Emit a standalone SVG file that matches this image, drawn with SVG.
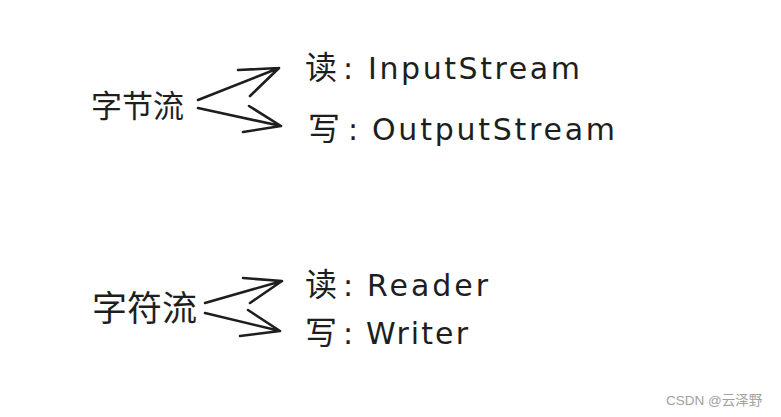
<svg xmlns="http://www.w3.org/2000/svg" width="781" height="417" viewBox="0 0 781 417">
<style>
.cjk{font-family:"Noto Sans CJK SC","Noto Sans",sans-serif;fill:#1e1e1e}
.lat{font-family:"DejaVu Sans","Noto Sans",sans-serif;fill:#1e1e1e}
.arr{fill:none;stroke:#1e1e1e;stroke-width:2.6;stroke-linecap:round;stroke-linejoin:round}
.wm{font-family:"Liberation Sans","Noto Sans CJK SC",sans-serif;fill:#a0a0a0;font-size:13.5px}
</style>
<rect width="781" height="417" fill="#ffffff"/>
<g id="byte-stream"><text class="cjk" x="91" y="117" font-size="31">字节流</text></g>
<g id="byte-read"><text x="305" y="79"><tspan class="cjk" font-size="32">读</tspan><tspan class="lat" x="343" font-size="30">:</tspan><tspan class="lat" x="368" font-size="30" textLength="212">InputStream</tspan></text></g>
<g id="byte-write"><text x="308" y="140"><tspan class="cjk" font-size="32">写</tspan><tspan class="lat" x="348" font-size="30">:</tspan><tspan class="lat" x="372" font-size="30" textLength="243">OutputStream</tspan></text></g>
<g id="char-stream"><text class="cjk" x="92" y="321" font-size="35">字符流</text></g>
<g id="char-read"><text x="305" y="296"><tspan class="cjk" font-size="32">读</tspan><tspan class="lat" x="343" font-size="30">:</tspan><tspan class="lat" x="367" font-size="30" textLength="121">Reader</tspan></text></g>
<g id="char-write"><text x="305" y="344"><tspan class="cjk" font-size="32">写</tspan><tspan class="lat" x="343" font-size="30">:</tspan><tspan class="lat" x="366" font-size="30" textLength="102">Writer</tspan></text></g>
<g id="connectors">
<path class="arr" d="M198 100 L279 68 M238 70 L279 68 L250 96"/>
<path class="arr" d="M198 108 L281 126 M249 106 L281 126 L243 132"/>
<path class="arr" d="M205 303 L282 281 M243 278 L282 281 L250 303"/>
<path class="arr" d="M205 313 L280 331 M248 310 L280 331 L240 336"/>
</g>
<text class="wm" x="666" y="405">CSDN @云泽野</text>
</svg>
